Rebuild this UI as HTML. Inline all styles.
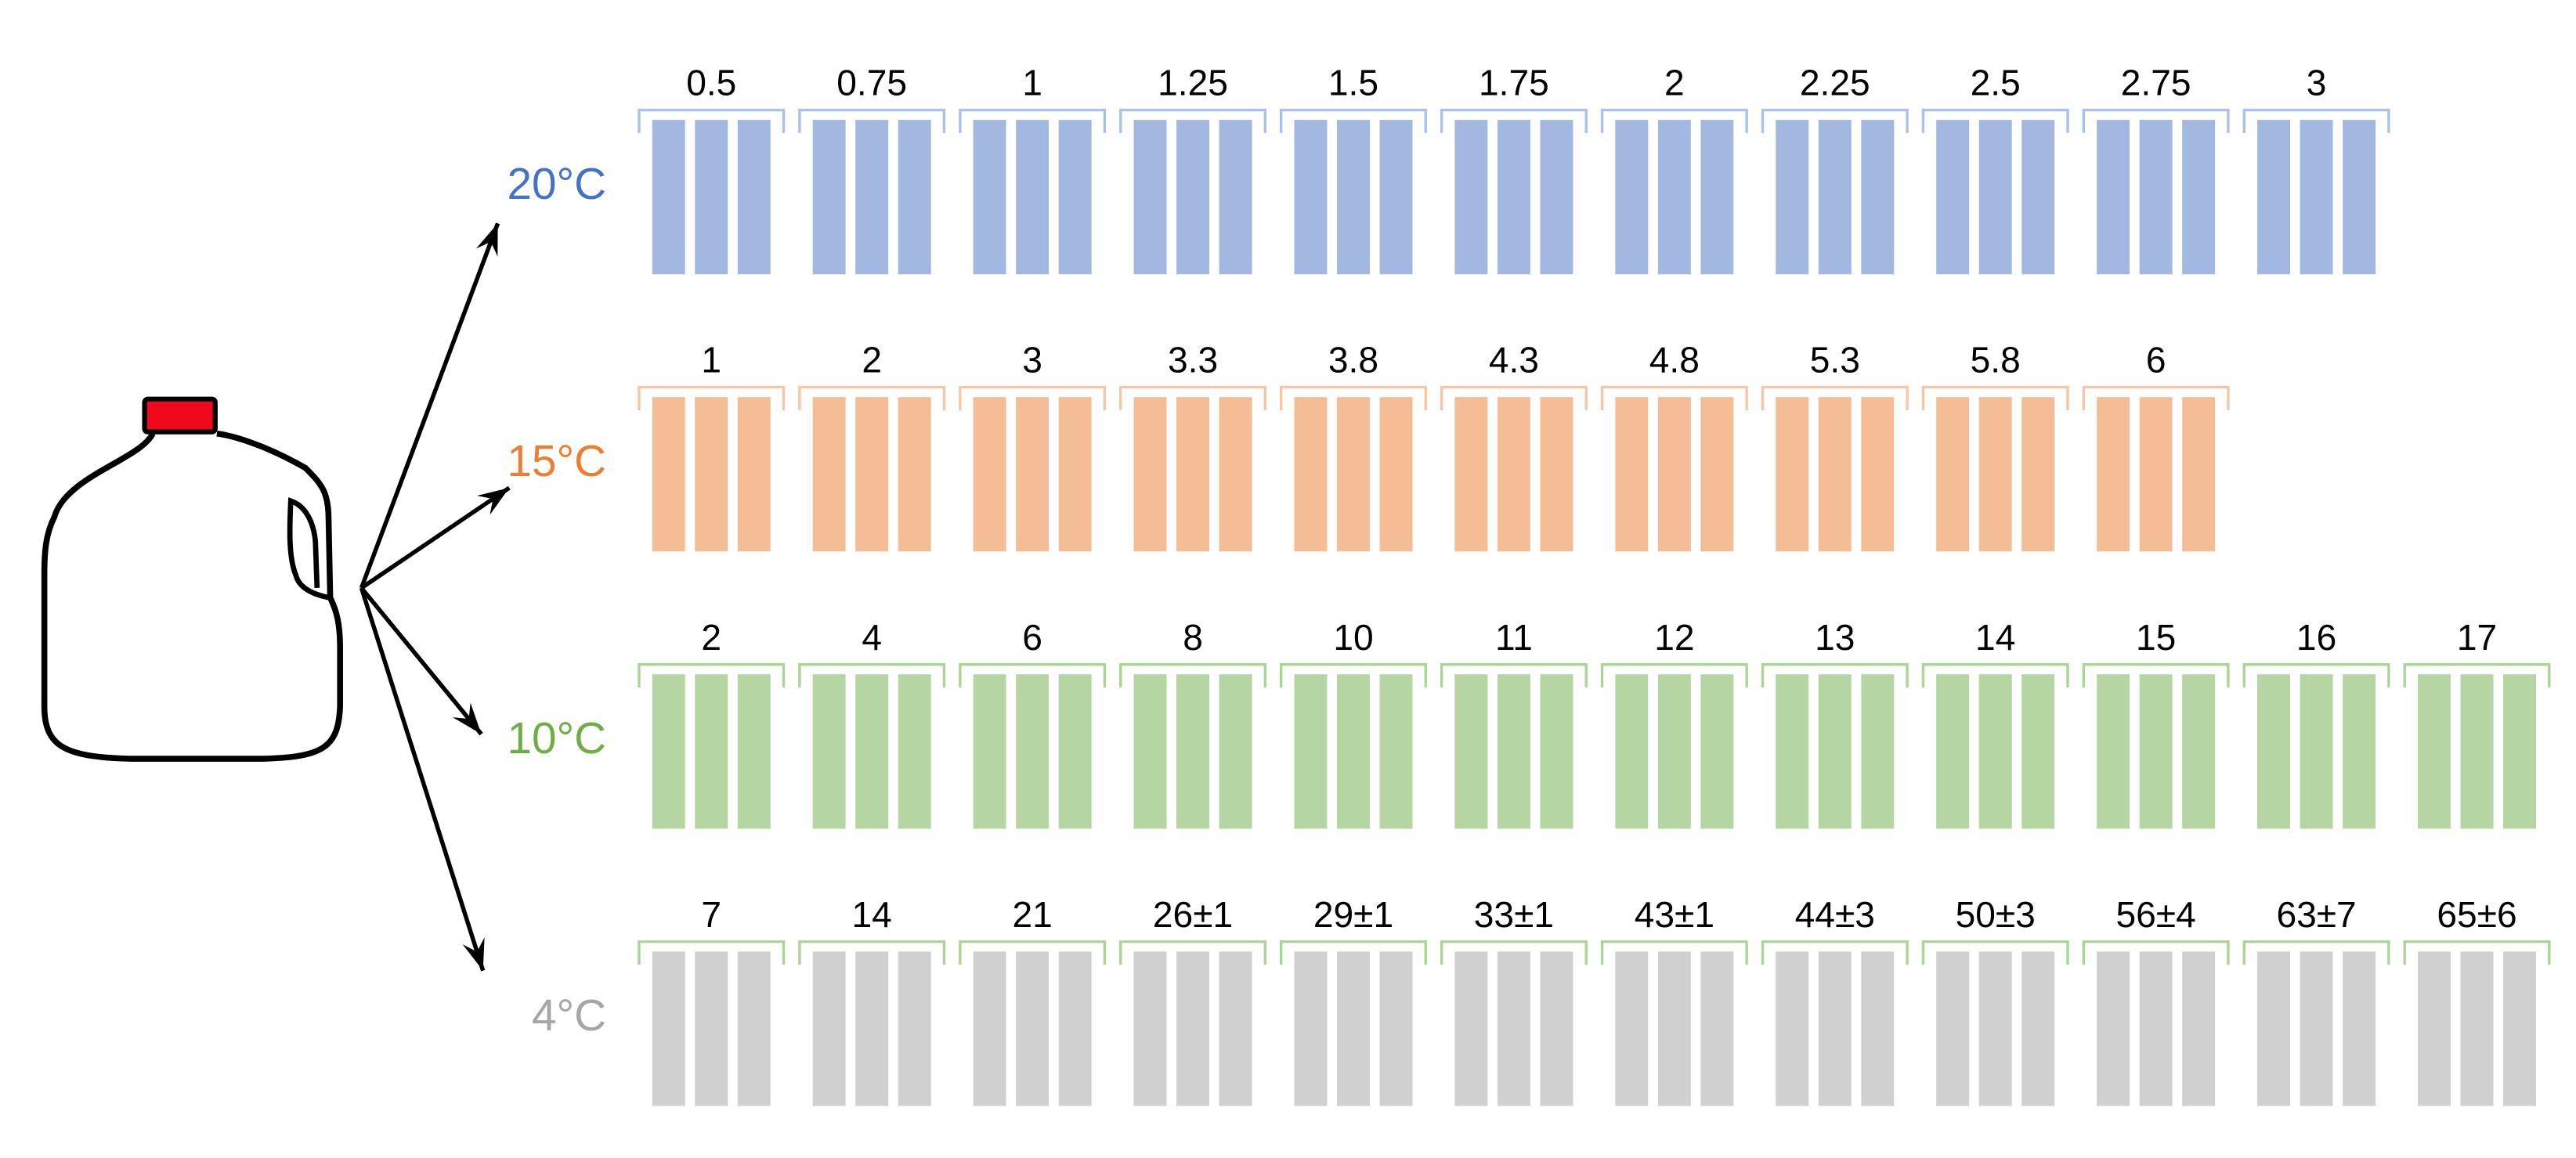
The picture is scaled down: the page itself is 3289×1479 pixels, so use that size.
<!DOCTYPE html>
<html><head><meta charset="utf-8"><style>
html,body{margin:0;padding:0;background:#fff;}
svg{display:block;}
text{font-family:"Liberation Sans",sans-serif;}
</style></head><body>
<svg id="chart" width="3289" height="1479" viewBox="0 0 1568 705.1" preserveAspectRatio="none" xmlns="http://www.w3.org/2000/svg">
<g>
<rect x="88" y="243" width="43" height="20" rx="2" fill="#f0081c" stroke="#000" stroke-width="3"/>
<path d="M93,264 C85,280 40,290 33,315 C28,325 27,335 27,350 L27,430 C27,455 40,461 80,462 L160,462 C197,461 206,455 207,430 L207,395 C207,380 205,372 201,364 L200,316 C200,300 196,295 186,285 C160,270 140,265 132,264" fill="none" stroke="#000" stroke-width="3.6" stroke-linejoin="round"/>
<path d="M201,364 C190,362 182,358 180,350 C176,340 176,325 177,305 C186,308 191,318 192,330 L193,358" fill="none" stroke="#000" stroke-width="3.2"/>
</g>
<g id="arrows"></g>
<g id="rows"></g>
</svg>
<script>
const temps = ["20°C","15°C","10°C","4°C"];
const rowColors = ["#a3b8e0","#f5bd96","#b5d6a2","#d0d0d0"];
const bracketColors = ["#a8c2ea","#f7c6a4","#a9d693","#a9d693"];
const labelColors = ["#4472c4","#ed7d31","#70ad47","#a6a6a6"];
const row20 = ["0.5","0.75","1","1.25","1.5","1.75","2","2.25","2.5","2.75","3"];
const row15 = ["1","2","3","3.3","3.8","4.3","4.8","5.3","5.8","6"];
const row10 = ["2","4","6","8","10","11","12","13","14","15","16","17"];
const row4 = ["7","14","21","26±1","29±1","33±1","43±1","44±3","50±3","56±4","63±7","65±6"];
const rowsData = [row20,row15,row10,row4];
const barsPerGroup = [3,3,3,3];

const NS="http://www.w3.org/2000/svg";
const x0=388, pitch=97.7, y0=67, rowPitch=168.8;
function gx(i){return x0+i*pitch;}
function ry(r){return y0+r*rowPitch;}
function mk(tag,attrs,parent){const e=document.createElementNS(NS,tag);for(const k in attrs)e.setAttribute(k,attrs[k]);parent.appendChild(e);return e;}

const rowsG=document.getElementById('rows');
rowsData.forEach((vals,r)=>{
  const g=mk('g',{},rowsG);
  
  
  const yt=ry(r);
  const lab=mk('text',{x:369,y:yt+54,'text-anchor':'end','font-size':27,fill:labelColors[r]},g);
  
  
  lab.textContent=temps[r];
  vals.forEach((v,i)=>{
    const x=gx(i);
    const gg=mk('g',{},g);
    
    
    const br=mk('path',{d:`M${x+1},${yt+14} L${x+1},${yt} L${x+89},${yt} L${x+89},${yt+14}`,fill:'none',stroke:bracketColors[r],'stroke-width':1.6},gg);
    
    
    for(let b=0;b<barsPerGroup[r];b++){
      const rc=mk('rect',{x:x+9+b*26,y:yt+6,width:20,height:94,fill:rowColors[r]},gg);
      
      
    }
    const t=mk('text',{x:x+45,y:yt-9,'text-anchor':'middle','font-size':22,fill:'#000'},gg);
    
    
    t.textContent=v;
  });
});

const arrowsG=document.getElementById('arrows');
const ox=220, oy=358;
const targets=[[303,136],[310,297],[293,447],[294,591]];
targets.forEach((p,i)=>{
  const l=mk('line',{x1:ox,y1:oy,x2:p[0],y2:p[1],stroke:'#000','stroke-width':2.6},arrowsG);
  
  
  const dx=p[0]-ox, dy=p[1]-oy, L=Math.hypot(dx,dy), ux=dx/L, uy=dy/L;
  const bx=p[0]-ux*19, by=p[1]-uy*19, px=-uy*7, py=ux*7;
  const h=mk('polygon',{points:`${p[0]},${p[1]} ${bx+px},${by+py} ${p[0]-ux*12},${p[1]-uy*12} ${bx-px},${by-py}`,fill:'#000'},arrowsG);
  
  
});
</script>
</body></html>
